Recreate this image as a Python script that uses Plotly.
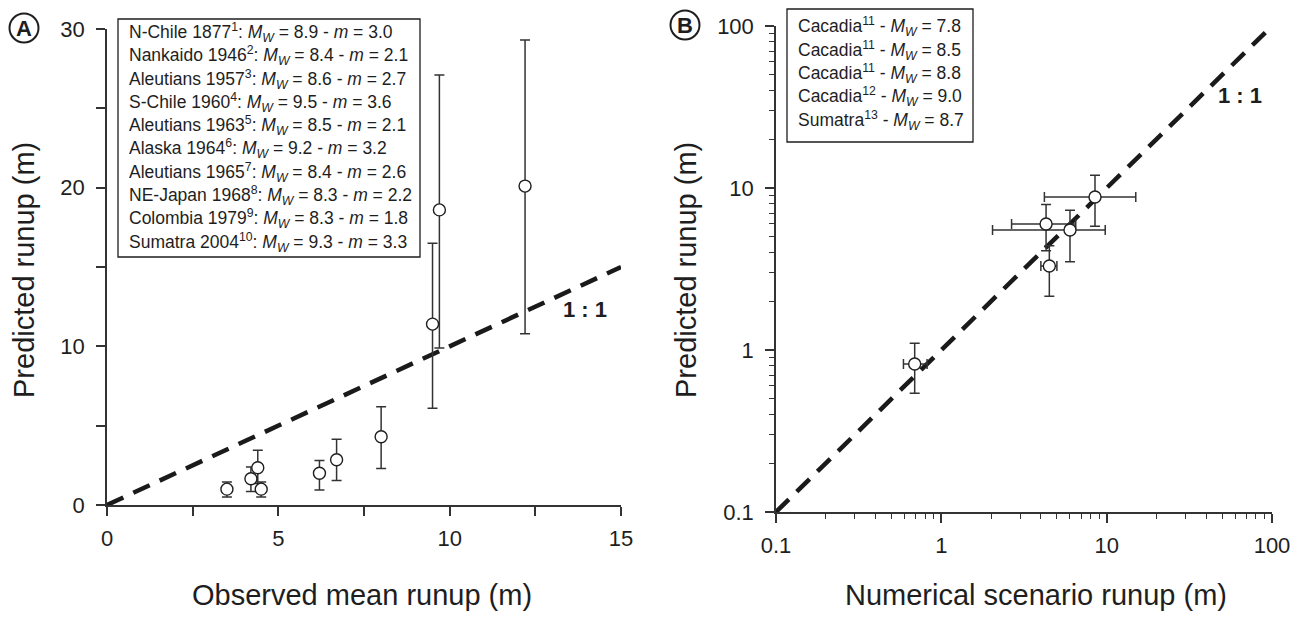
import numpy as np
import plotly.graph_objects as go

W, H = 1302, 618
FONT = "Liberation Sans, Arial, sans-serif"
INK = "#1e1e1e"
AXC = "#333333"

# ---------------- Panel A: historical events ----------------
events_a = ["N-Chile 1877", "Nankaido 1946", "Aleutians 1957", "S-Chile 1960",
            "Aleutians 1963", "Alaska 1964", "Aleutians 1965", "NE-Japan 1968",
            "Colombia 1979", "Sumatra 2004"]
refs_a = [1, 2, 3, 4, 5, 6, 7, 8, 9, 10]
mw_a = [8.9, 8.4, 8.6, 9.5, 8.5, 9.2, 8.4, 8.3, 8.3, 9.3]
m_a = [3.0, 2.1, 2.7, 3.6, 2.1, 3.2, 2.6, 2.2, 1.8, 3.3]

observed_a = [3.5, 4.2, 4.4, 4.5, 6.2, 6.7, 8.0, 9.5, 9.7, 12.2]
predicted_a = [1.0, 1.65, 2.35, 1.0, 2.0, 2.85, 4.3, 11.4, 18.6, 20.1]
pred_low_a = [0.5, 0.85, 1.35, 0.5, 0.95, 1.55, 2.3, 6.1, 9.9, 10.8]
pred_high_a = [1.45, 2.4, 3.45, 1.45, 2.8, 4.15, 6.2, 16.5, 27.1, 29.3]
one_a = [0, 15]

# ---------------- Panel B: numerical scenarios ----------------
events_b = ["Cacadia", "Cacadia", "Cacadia", "Cacadia", "Sumatra"]
refs_b = [11, 11, 11, 12, 13]
mw_b = [7.8, 8.5, 8.8, 9.0, 8.7]

scenario_b = [0.69, 4.5, 4.3, 6.0, 8.5]
scen_low_b = [0.59, 4.0, 2.66, 2.04, 4.2]
scen_high_b = [0.82, 5.0, 6.5, 9.8, 15.0]
predicted_b = [0.82, 3.3, 6.0, 5.5, 8.8]
pred_low_b = [0.54, 2.15, 4.1, 3.5, 5.8]
pred_high_b = [1.10, 4.4, 7.9, 7.3, 12.0]
one_b = [0.1, 100]

# tick positions
a_x_major, a_x_minor = [0, 5, 10, 15], 2.5
a_y_major, a_y_minor = [0, 10, 20, 30], 5
decades = [0.1, 1, 10, 100]
decade_labels = ["0.1", "1", "10", "100"]


def px(x):
    return x / W


def py(y):
    return 1 - y / H


fig = go.Figure()

dash_line = dict(color="#1a1a1a", width=4.5, dash="18px,11px")
err_style = dict(type="data", symmetric=False, color=AXC, thickness=1.5, width=5)
marker_style = dict(symbol="circle", size=12, color="white",
                    line=dict(color=INK, width=1.4))

fig.add_trace(go.Scatter(x=one_a, y=one_a, mode="lines", line=dash_line,
                         xaxis="x", yaxis="y", hoverinfo="skip"))
oa, pa = np.array(observed_a), np.array(predicted_a)
fig.add_trace(go.Scatter(
    x=observed_a, y=predicted_a, mode="markers", marker=marker_style,
    error_y=dict(err_style, array=np.array(pred_high_a) - pa,
                 arrayminus=pa - np.array(pred_low_a)),
    xaxis="x", yaxis="y", text=events_a, cliponaxis=False))

fig.add_trace(go.Scatter(x=one_b, y=one_b, mode="lines", line=dash_line,
                         xaxis="x2", yaxis="y2", hoverinfo="skip"))
sb, pb = np.array(scenario_b), np.array(predicted_b)
fig.add_trace(go.Scatter(
    x=scenario_b, y=predicted_b, mode="markers", marker=marker_style,
    error_x=dict(err_style, array=np.array(scen_high_b) - sb,
                 arrayminus=sb - np.array(scen_low_b)),
    error_y=dict(err_style, array=np.array(pred_high_b) - pb,
                 arrayminus=pb - np.array(pred_low_b)),
    xaxis="x2", yaxis="y2", text=events_b, cliponaxis=False))

axis_common = dict(showline=True, linecolor=AXC, linewidth=1.5, showgrid=False,
                   zeroline=False, ticks="outside", ticklen=9, tickwidth=1.5,
                   tickcolor=AXC, automargin=False,
                   tickfont=dict(family=FONT, size=22, color=INK))

fig.update_layout(
    xaxis=dict(axis_common, domain=[px(107), px(621)], range=[0, 15],
               tickmode="array", tickvals=a_x_major,
               ticktext=[str(v) for v in a_x_major],
               minor=dict(ticks="outside", ticklen=9, tickwidth=1.5, tickcolor=AXC,
                          tick0=0, dtick=a_x_minor, showgrid=False),
               ticklabelstandoff=4, anchor="y"),
    yaxis=dict(axis_common, domain=[py(505), py(29)], range=[0, 30],
               tickmode="array", tickvals=a_y_major,
               ticktext=[str(v) for v in a_y_major],
               minor=dict(ticks="outside", ticklen=9, tickwidth=1.5, tickcolor=AXC,
                          tick0=0, dtick=a_y_minor, showgrid=False),
               ticklabelstandoff=7, anchor="x"),
)

minor_vals = [m * d for d in decades[:-1] for m in range(2, 10)]
log_common = dict(axis_common, type="log", range=[-1, 2], tickmode="array",
                  tickvals=decades, ticktext=decade_labels,
                  minor=dict(ticks="outside", ticklen=5, tickwidth=1.3,
                             tickcolor=AXC, tickmode="array", tickvals=minor_vals,
                             showgrid=False))
fig.update_layout(
    xaxis2=dict(log_common, domain=[px(776), px(1272)], anchor="y2",
                ticklabelstandoff=4),
    yaxis2=dict(log_common, domain=[py(512), py(26)], anchor="x2",
                ticklabelstandoff=7),
)

shapes = []
annotations = []

# legend boxes
legend_a = [f"{e}<sup>{r}</sup>: <i>M</i><sub><i>W</i></sub> = {mw:.1f} - <i>m</i> = {m:.1f}"
            for e, r, mw, m in zip(events_a, refs_a, mw_a, m_a)]
legend_b = [f"{e}<sup>{r}</sup> - <i>M</i><sub><i>W</i></sub> = {mw:.1f}"
            for e, r, mw in zip(events_b, refs_b, mw_b)]

LEG_FONT = dict(family=FONT, size=17.5, color=INK)
shapes.append(dict(type="rect", xref="paper", yref="paper",
                   x0=px(118), x1=px(420), y0=py(257), y1=py(19),
                   line=dict(color=INK, width=1.3), fillcolor="white", layer="above"))
for i, t in enumerate(legend_a):
    annotations.append(dict(text=t, xref="paper", yref="paper", x=px(127),
                            y=py(32.5 + 23.3 * i), xanchor="left", yanchor="middle",
                            showarrow=False, font=LEG_FONT))

shapes.append(dict(type="rect", xref="paper", yref="paper",
                   x0=px(787), x1=px(973), y0=py(142), y1=py(9),
                   line=dict(color=INK, width=1.3), fillcolor="white", layer="above"))
for i, t in enumerate(legend_b):
    annotations.append(dict(text=t, xref="paper", yref="paper", x=px(796),
                            y=py(27 + 23.3 * i), xanchor="left", yanchor="middle",
                            showarrow=False, font=LEG_FONT))

# panel letters
for letter, cx, cy in [("A", 24, 28), ("B", 685, 25)]:
    r = 14.5
    shapes.append(dict(type="circle", xref="paper", yref="paper",
                       x0=px(cx - r), x1=px(cx + r), y0=py(cy + r), y1=py(cy - r),
                       line=dict(color=INK, width=2)))
    annotations.append(dict(text=f"<b>{letter}</b>", xref="paper", yref="paper",
                            x=px(cx), y=py(cy + 0.5), xanchor="center", yanchor="middle",
                            showarrow=False, font=dict(family=FONT, size=22, color=INK)))

# 1:1 labels
one_font = dict(family=FONT, size=22, color=INK)
annotations.append(dict(text="<b>1 : 1</b>", xref="x", yref="y", x=13.95, y=12.3,
                        xanchor="center", yanchor="middle",
                        showarrow=False, font=one_font))
annotations.append(dict(text="<b>1 : 1</b>", xref="x2", yref="y2",
                        x=np.log10(64), y=np.log10(37),
                        xanchor="center", yanchor="middle",
                        showarrow=False, font=one_font))

# axis titles
title_font = dict(family=FONT, size=29, color=INK)
titles = [
    ("Observed mean runup (m)", 362, 595, 0),
    ("Numerical scenario runup (m)", 1036, 595, 0),
    ("Predicted runup (m)", 24, 270, -90),
    ("Predicted runup (m)", 686, 270, -90),
]
for text, tx, ty, ang in titles:
    annotations.append(dict(text=text, xref="paper", yref="paper", x=px(tx), y=py(ty),
                            xanchor="center", yanchor="middle", textangle=ang,
                            showarrow=False, font=title_font))

fig.update_layout(width=W, height=H, margin=dict(l=0, r=0, t=0, b=0),
                  paper_bgcolor="white", plot_bgcolor="white", showlegend=False,
                  shapes=shapes, annotations=annotations,
                  font=dict(family=FONT, color=INK))

fig.write_html("out.html")
